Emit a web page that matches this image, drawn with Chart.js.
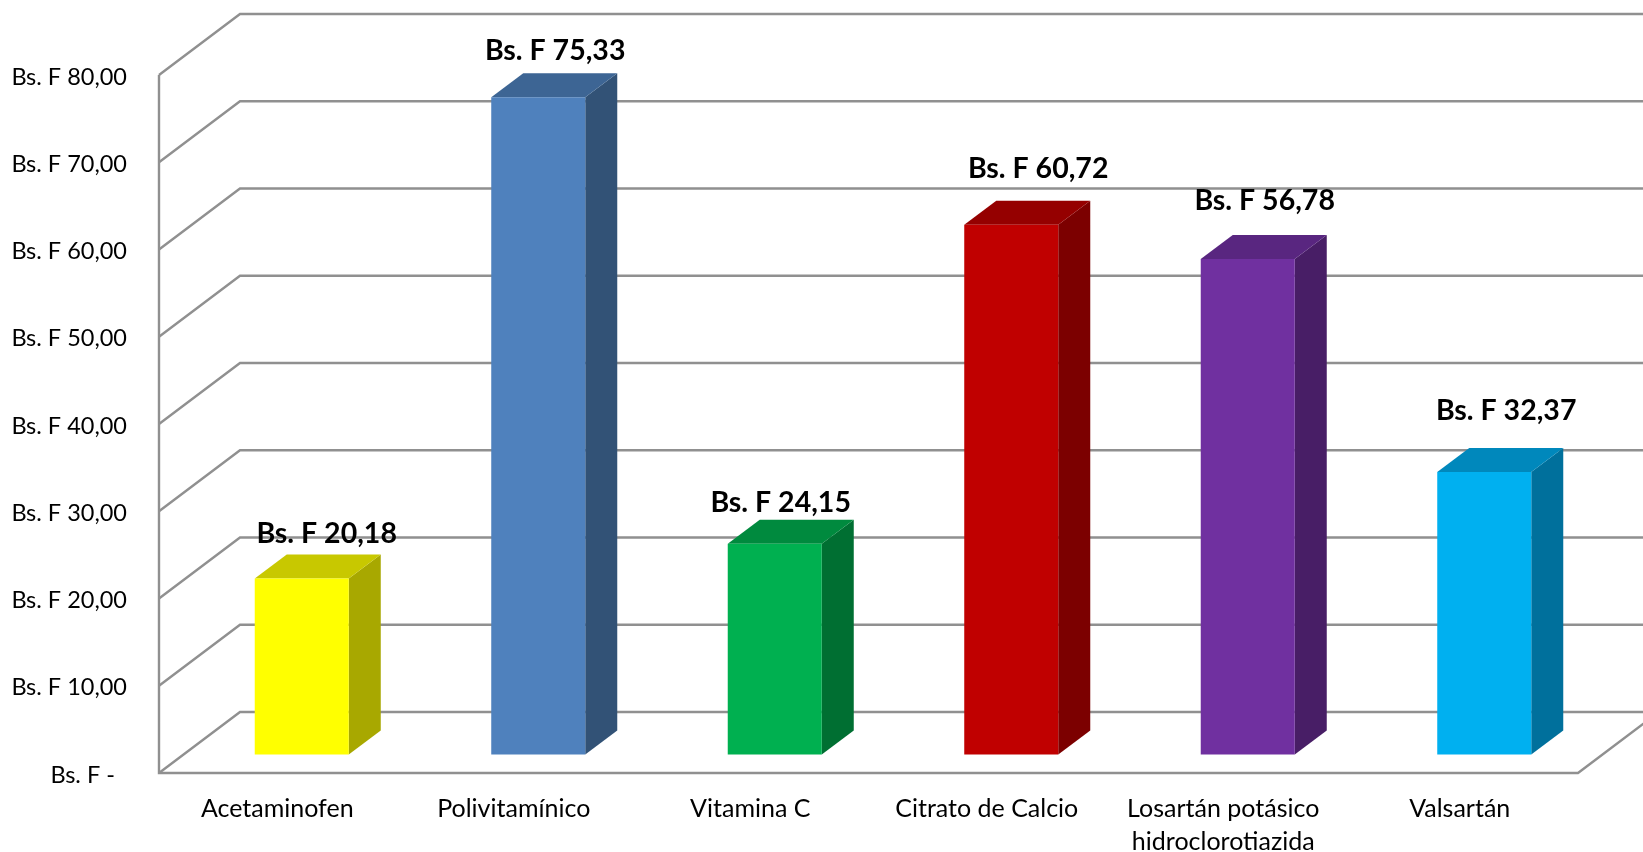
<!DOCTYPE html>
<html>
<head>
<meta charset="utf-8">
<style>
  html, body { margin: 0; padding: 0; background: #fff; overflow: hidden; }
  canvas { display: block; }
</style>
<script src="https://cdn.jsdelivr.net/npm/chart.js@4"></script>
</head>
<body>
<canvas id="chart" width="1643" height="852"></canvas>
<script>
const categories = [
    'Acetaminofen',
    'Polivitamínico',
    'Vitamina C',
    'Citrato de Calcio',
    ['Losartán potásico', 'hidroclorotiazida'],
    'Valsartán',
];
const prices = [20.18, 75.33, 24.15, 60.72, 56.78, 32.37];
const yTicks = [0, 10, 20, 30, 40, 50, 60, 70, 80];

const frontColors = ['#FFFF00', '#4F81BD', '#00B050', '#C00000', '#7030A0', '#00B0F0'];
const sideColors = ['#A8A800', '#325276', '#006F32', '#7C0000', '#481E66', '#00709C'];
const topColors = ['#C8C800', '#3D6594', '#008A3E', '#950000', '#592680', '#0088BC'];

// data labels were moved by hand in the original, so each one has its own nudge
const labelNudgeX = [25, 17, 6, 27, 17, 22];
const labelNudgeY = [-45, -46, -41, -56, -58, -61];

const WALL_DX = 81, WALL_DY = -61;   // depth of the chart box
const GAP_DX = 24.5, GAP_DY = -18.5; // front of the bar vs front of the box
const BAR_DX = 32, BAR_DY = -24;     // depth of a bar
const LINE = '#909090';

function money(v) {
    if (v === 0) return 'Bs. F -  ';
    return 'Bs. F ' + v.toFixed(2).replace('.', ',');
}

function poly(ctx, pts, fill) {
    ctx.beginPath();
    pts.forEach((p, i) => i ? ctx.lineTo(p[0], p[1]) : ctx.moveTo(p[0], p[1]));
    ctx.closePath();
    ctx.fillStyle = fill;
    ctx.fill();
}

const box3d = {
    id: 'box3d',
    beforeDatasetsDraw(chart) {
        const ctx = chart.ctx, y = chart.scales.y, a = chart.chartArea;
        ctx.save();
        ctx.strokeStyle = LINE;
        ctx.lineWidth = 2.4;
        ctx.lineJoin = 'miter';

        // walls: every gridline goes back from the axis, then across
        yTicks.forEach(t => {
            const py = y.getPixelForValue(t);
            ctx.beginPath();
            ctx.moveTo(a.left, py);
            ctx.lineTo(a.left + WALL_DX, py + WALL_DY);
            ctx.lineTo(chart.width, py + WALL_DY);
            ctx.stroke();
        });

        // value axis and floor edge
        ctx.beginPath();
        ctx.moveTo(a.left, a.top);
        ctx.lineTo(a.left, a.bottom);
        ctx.lineTo(a.right, a.bottom);
        ctx.lineTo(a.right + WALL_DX, a.bottom + WALL_DY);
        ctx.stroke();
        ctx.restore();

        // bars are moved onto the middle of the floor until they are drawn
        ctx.save();
        ctx.translate(GAP_DX, GAP_DY);
        chart.getDatasetMeta(0).data.forEach((bar, i) => {
            const l = bar.x - bar.width / 2, r = bar.x + bar.width / 2;
            poly(ctx, [[r, bar.y], [r + BAR_DX, bar.y + BAR_DY], [r + BAR_DX, bar.base + BAR_DY], [r, bar.base]], sideColors[i]);
            poly(ctx, [[l, bar.y], [l + BAR_DX, bar.y + BAR_DY], [r + BAR_DX, bar.y + BAR_DY], [r, bar.y]], topColors[i]);
        });
    },
    afterDatasetsDraw(chart) {
        const ctx = chart.ctx;
        ctx.restore();
        ctx.save();
        ctx.font = 'bold 28.5px Lato';
        ctx.fillStyle = '#000';
        ctx.textAlign = 'center';
        ctx.textBaseline = 'middle';
        chart.getDatasetMeta(0).data.forEach((bar, i) => {
            ctx.fillText(money(prices[i]), bar.x + GAP_DX + labelNudgeX[i], bar.y + GAP_DY + labelNudgeY[i]);
        });
        ctx.restore();
    },
};

new Chart(document.getElementById('chart'), {
    type: 'bar',
    data: {
        labels: categories,
        datasets: [{
            data: prices,
            backgroundColor: frontColors,
            borderWidth: 0,
            categoryPercentage: 1,
            barPercentage: 0.3975,
            clip: false,
        }],
    },
    plugins: [box3d],
    options: {
        responsive: false,
        animation: false,
        layout: { padding: { top: 75, right: 65, left: 0, bottom: 0 } },
        plugins: { legend: { display: false }, tooltip: { enabled: false } },
        scales: {
            x: {
                afterFit(s) { s.height = 79; },
                grid: { display: false },
                border: { display: false },
                ticks: {
                    autoSkip: false,
                    maxRotation: 0,
                    padding: 12,
                    color: '#000',
                    font: { family: 'Lato', size: 25, lineHeight: 1.3 },
                },
            },
            y: {
                min: 0,
                max: 80,
                afterFit(s) { s.width = 159; },
                afterBuildTicks(s) { s.ticks = yTicks.map(v => ({ value: v })); },
                grid: { display: false },
                border: { display: false },
                ticks: {
                    padding: 24,
                    labelOffset: 2,
                    color: '#000',
                    font: { family: 'Lato', size: 23.5 },
                    callback: v => money(v),
                },
            },
        },
    },
});
</script>
</body>
</html>
